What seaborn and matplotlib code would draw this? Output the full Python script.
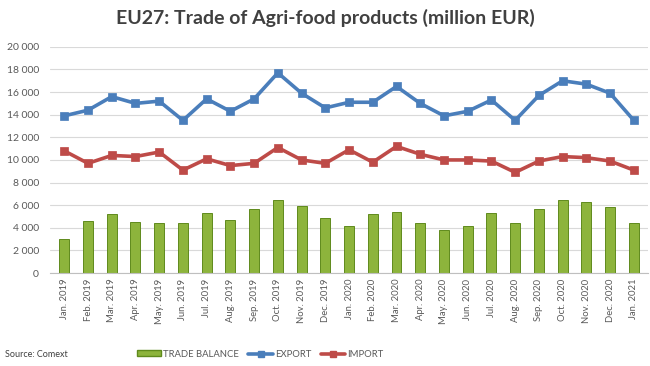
import seaborn as sns
import matplotlib.pyplot as plt
import pandas as pd
from matplotlib.lines import Line2D
from matplotlib.patches import Patch
from matplotlib.ticker import FuncFormatter

# data (million EUR)
months = ['Jan. 2019', 'Feb. 2019', 'Mar. 2019', 'Apr. 2019', 'May. 2019', 'Jun. 2019',
          'Jul. 2019', 'Aug. 2019', 'Sep. 2019', 'Oct. 2019', 'Nov. 2019', 'Dec. 2019',
          'Jan. 2020', 'Feb. 2020', 'Mar. 2020', 'Apr. 2020', 'May. 2020', 'Jun. 2020',
          'Jul. 2020', 'Aug. 2020', 'Sep. 2020', 'Oct. 2020', 'Nov. 2020', 'Dec. 2020',
          'Jan. 2021']
export = [13900, 14400, 15600, 15000, 15200, 13500, 15400, 14300, 15400, 17700, 15900, 14600,
          15100, 15100, 16500, 15000, 13900, 14300, 15300, 13500, 15700, 17000, 16700, 15900,
          13500]
imports = [10800, 9700, 10400, 10300, 10700, 9100, 10100, 9500, 9700, 11100, 10000, 9700,
           10900, 9800, 11200, 10500, 10000, 10000, 9900, 8900, 9900, 10300, 10200, 9900,
           9100]
balance = [3000, 4600, 5200, 4500, 4400, 4400, 5300, 4700, 5700, 6500, 5900, 4900,
           4200, 5200, 5400, 4400, 3800, 4200, 5300, 4400, 5700, 6500, 6300, 5800,
           4400]

df = pd.DataFrame({'month': months, 'export': export, 'import': imports, 'balance': balance})

sns.set_style('white')
plt.rcParams['font.family'] = ['Lato', 'DejaVu Sans']

fig = plt.figure(figsize=(6.5, 3.66), dpi=100)
ax = fig.add_axes([0.077, 0.254, 0.92, 0.618])

green = '#8db43c'
blue = '#4a7ebb'
red = '#be4b48'

sns.barplot(data=df, x='month', y='balance', color=green, width=0.42,
            edgecolor='#5f8a1c', linewidth=0.7, saturation=1, ax=ax, zorder=2)
sns.pointplot(data=df, x='month', y='export', color=blue, markers='s',
              markersize=5, linewidth=2.6, ax=ax, zorder=3)
sns.pointplot(data=df, x='month', y='import', color=red, markers='s',
              markersize=5, linewidth=2.6, ax=ax, zorder=3)

ax.set_ylim(0, 20000)
ax.set_yticks(range(0, 20001, 2000))
ax.yaxis.set_major_formatter(FuncFormatter(lambda v, p: f'{int(v):,}'.replace(',', ' ')))
ax.set_xlim(-0.6, len(months) - 0.4)
ax.grid(axis='y', color='#d9d9d9', linewidth=0.8, zorder=0)
ax.set_axisbelow(True)
for s in ['top', 'right', 'left']:
    ax.spines[s].set_visible(False)
ax.spines['bottom'].set_color('#bfbfbf')
ax.tick_params(axis='x', labelrotation=90, labelsize=6.8, colors='#595959', length=0, pad=4)
ax.tick_params(axis='y', labelsize=7.5, colors='#595959', length=0, pad=8)
ax.set_xlabel('')
ax.set_ylabel('')

fig.text(0.5, 0.95, 'EU27: Trade of Agri-food products (million EUR)', ha='center', va='center',
         fontsize=14, fontweight='bold', color='#404040')
fig.text(0.008, 0.032, 'Source: Comext', ha='left', va='center', fontsize=6.5, color='#404040')

handles = [Patch(facecolor=green, edgecolor='#5f8a1c'),
           Line2D([], [], color=blue, lw=2.6, marker='s', markersize=5),
           Line2D([], [], color=red, lw=2.6, marker='s', markersize=5)]
leg = fig.legend(handles, ['TRADE BALANCE', 'EXPORT', 'IMPORT'], loc='center',
                 bbox_to_anchor=(0.4, 0.032), ncol=3, frameon=False, fontsize=6.8,
                 handlelength=2.6, handleheight=0.6, columnspacing=1.0, handletextpad=0.2)
for t in leg.get_texts():
    t.set_color('#595959')

fig.savefig('out.png', dpi=100)
